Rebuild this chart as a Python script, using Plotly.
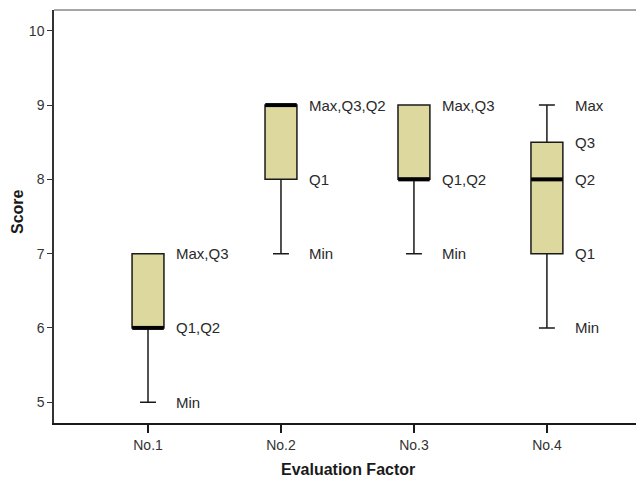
import plotly.graph_objects as go

categories = ["No.1", "No.2", "No.3", "No.4"]
mins = [5, 7, 7, 6]
q1s = [6, 8, 8, 7]
medians = [6, 9, 8, 8]
q3s = [7, 9, 9, 8.5]
maxs = [7, 9, 9, 9]
y_ticks = [5, 6, 7, 8, 9, 10]
point_labels = [
    [(7, "Max,Q3"), (6, "Q1,Q2"), (5, "Min")],
    [(9, "Max,Q3,Q2"), (8, "Q1"), (7, "Min")],
    [(9, "Max,Q3"), (8, "Q1,Q2"), (7, "Min")],
    [(9, "Max"), (8.5, "Q3"), (8, "Q2"), (7, "Q1"), (6, "Min")],
]

FONT = "Liberation Sans, Arial, sans-serif"
BOX_FILL = "#DCD89E"

W, H = 636, 480
ML, MR, MT, MB = 54, 0, 10, 57
pw, ph = W - ML - MR, H - MT - MB

fig = go.Figure()
fig.add_trace(go.Box(
    x=categories,
    q1=q1s, median=medians, q3=q3s,
    lowerfence=mins, upperfence=maxs,
    fillcolor=BOX_FILL,
    line=dict(color="#1a1a1a", width=1.5),
    width=0.24,
    whiskerwidth=0.5,
    boxpoints=False,
    hoverinfo="skip",
    showlegend=False,
))
# thick median lines
fig.add_trace(go.Scatter(
    x=categories, y=medians, mode="markers",
    marker=dict(symbol="line-ew", size=22.5, line=dict(color="black", width=4)),
    hoverinfo="skip", showlegend=False,
))

annotations = []
for cat, labs in zip(categories, point_labels):
    for val, txt in labs:
        annotations.append(dict(
            x=cat, y=val, xref="x", yref="y", text=txt, showarrow=False,
            xanchor="left", yanchor="middle", xshift=26,
            font=dict(family=FONT, size=15, color="#2a2a2a"),
        ))

annotations.append(dict(
    x=(17 - ML) / pw, y=(H - MB - 212) / ph, xref="paper", yref="paper",
    text="<b>Score</b>", showarrow=False, textangle=-90,
    xanchor="center", yanchor="middle",
    font=dict(family=FONT, size=16, color="#1a1a1a"),
))
annotations.append(dict(
    x=(348 - ML) / pw, y=(H - MB - 469) / ph, xref="paper", yref="paper",
    text="<b>Evaluation Factor</b>", showarrow=False,
    xanchor="center", yanchor="middle",
    font=dict(family=FONT, size=16, color="#1a1a1a"),
))

fig.update_layout(
    width=W, height=H,
    margin=dict(l=ML, r=MR, t=MT, b=MB),
    paper_bgcolor="white", plot_bgcolor="white",
    annotations=annotations,
    xaxis=dict(
        type="category", range=[-0.707, 3.67],
        showline=True, linecolor="#1a1a1a", linewidth=2,
        ticks="outside", ticklen=8, tickcolor="#1a1a1a", tickwidth=1.5,
        showgrid=False, zeroline=False,
        tickfont=dict(family=FONT, size=14, color="#333333"),
    ),
    yaxis=dict(
        range=[4.72, 10.28], tickvals=y_ticks,
        showline=True, linecolor="#333333", linewidth=1.5,
        ticks="outside", ticklen=5, tickcolor="#333333", tickwidth=1,
        showgrid=False, zeroline=False,
        tickfont=dict(family=FONT, size=14, color="#333333"),
    ),
    shapes=[dict(type="line", xref="paper", yref="paper", x0=0, x1=1, y0=1, y1=1,
                 line=dict(color="#888888", width=1.5))],
)

fig.write_html(
    "out.html",
    config={"displayModeBar": False},
    post_script="document.body.style.margin='0';document.body.style.overflow='hidden';",
)
